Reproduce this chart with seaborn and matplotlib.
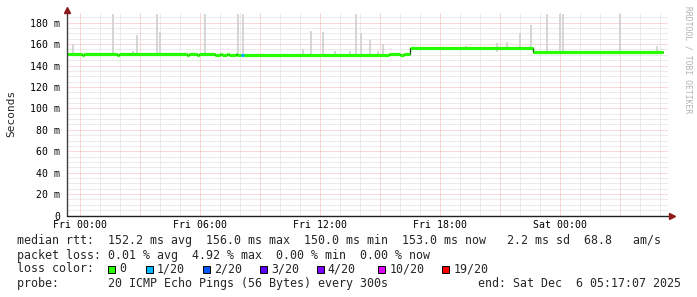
import matplotlib
matplotlib.use("Agg")
import matplotlib.pyplot as plt
import seaborn as sns
import pandas as pd
from matplotlib.patches import Rectangle

# ---------------- data (hours relative to Fri 00:00) ----------------
med_hours = [-0.675, 0.08, 0.2, 1.83, 1.95, 5.33, 5.43, 5.85, 5.95, 6.75, 7.0, 7.08,
             7.33, 7.47, 7.8, 7.85, 8.03, 8.18, 15.43, 16.0, 16.2, 16.52, 22.67]
med_ms = [151, 150, 151, 150, 151, 150, 151, 150, 151, 150, 151, 150,
          151, 150, 151, 150, 150, 150, 151, 150, 151, 156, 153]
med_loss = [0, 0, 0, 0, 0, 0, 0, 0, 0, 0, 0, 0,
            0, 0, 0, 0, 1, 0, 0, 0, 0, 0, 0]
end_hour = 29.17

spike_hours = [-0.35, 1.65, 2.65, 2.85, 3.85, 4.0, 6.25, 7.9, 8.15, 11.15, 11.55,
               12.15, 12.75, 13.5, 13.8, 14.05, 14.5, 14.9, 15.15, 19.3, 20.85,
               21.35, 22.0, 22.55, 23.35, 24.0, 24.15, 27.0, 28.85]
spike_lo = [150, 150, 150, 150, 150, 150, 150, 149, 149, 149, 149,
            149, 149, 149, 149, 149, 149, 149, 149, 155, 153,
            155, 155, 155, 152, 152, 152, 152, 152]
spike_hi = [160.5, 187.8, 154, 168.2, 187.8, 171, 187.8, 187.8, 187.8, 155, 172.6,
            171.7, 153.3, 153.5, 187.8, 170.8, 163.6, 153.5, 160.2, 158.6, 161,
            161.7, 170.5, 178.2, 187.8, 188.5, 187.8, 187.8, 158.6]

ytick_vals = [0, 20, 40, 60, 80, 100, 120, 140, 160, 180]
ytick_labels = ["0", "20 m", "40 m", "60 m", "80 m", "100 m", "120 m", "140 m", "160 m", "180 m"]
xtick_hours = [0, 6, 12, 18, 24]
xtick_labels = ["Fri 00:00", "Fri 06:00", "Fri 12:00", "Fri 18:00", "Sat 00:00"]

loss_labels = ["0", "1/20", "2/20", "3/20", "4/20", "10/20", "19/20"]
loss_colors = ["#26ff00", "#00b8ff", "#0059ff", "#5e00ff", "#7e00ff", "#dd00ff", "#ff0000"]

line_rtt = "median rtt:  152.2 ms avg  156.0 ms max  150.0 ms min  153.0 ms now   2.2 ms sd  68.8   am/s"
line_loss = "packet loss: 0.01 % avg  4.92 % max  0.00 % min  0.00 % now"
line_color = "loss color:"
line_probe = "probe:       20 ICMP Echo Pings (56 Bytes) every 300s"
line_end = "end: Sat Dec  6 05:17:07 2025"
watermark = "RRDTOOL / TOBI OETIKER"

# ---------------- figure ----------------
sns.set_style("white")
MONO = ["DejaVu Sans Mono"]
plt.rcParams["font.family"] = MONO

W, H = 697, 297
fig = plt.figure(figsize=(W / 100, H / 100), dpi=100, facecolor="white")

def fx(px):
    return px / W

def fy(py):
    return 1 - py / H

ax_l, ax_r, ax_t, ax_b = 66.5, 667.5, 13.0, 215.5
ax = fig.add_axes([fx(ax_l), fy(ax_b), (ax_r - ax_l) / W, (ax_b - ax_t) / H])
ax.set_facecolor("white")
ax.set_xlim(-0.675, 29.375)
ax.set_ylim(0, 189)

# grid
minor_c, major_c = "#d9d9d9", "#f0b4b4"
dot = (0, (1, 1))
for h in range(0, 30):
    if h % 3 != 0:
        ax.axvline(h, color=minor_c, lw=0.72, ls=dot, zorder=0)
for h in range(0, 30, 3):
    ax.axvline(h, color=major_c, lw=0.72, ls=dot, zorder=0.5)
for v in range(5, 190, 5):
    if v % 20 != 0:
        ax.axhline(v, color=minor_c, lw=0.72, ls=dot, zorder=0)
for v in range(20, 190, 20):
    ax.axhline(v, color=major_c, lw=0.72, ls=dot, zorder=0.5)

# smoke spikes
ax.vlines(spike_hours, spike_lo, spike_hi, color="#d2d2d2", lw=1.3, zorder=1)

# median line (thin dark step underneath, thick coloured segments on top)
step_df = pd.DataFrame({"h": med_hours + [end_hour], "ms": med_ms + [med_ms[-1]]})
sns.lineplot(data=step_df, x="h", y="ms", drawstyle="steps-post", color="#202020",
             lw=0.9, estimator=None, ax=ax, zorder=2)
seg_end = med_hours[1:] + [end_hour]
for h0, h1, v, l in zip(med_hours, seg_end, med_ms, med_loss):
    ax.hlines(v, h0, h1, color=loss_colors[l], lw=2.3, zorder=3, capstyle="butt")

# axes styling
for s in ax.spines.values():
    s.set_visible(False)
ax.set_yticks(ytick_vals)
ax.set_yticklabels(ytick_labels)
ax.set_xticks(xtick_hours)
ax.set_xticklabels(xtick_labels)
ax.tick_params(axis="both", length=0, labelsize=7.1, colors="#000000")
ax.tick_params(axis="y", pad=4.6)
ax.tick_params(axis="x", pad=3.3)
ax.set_xlabel("")
ax.set_ylabel("")

# axis lines with arrows
ax.plot([0, 0], [0, 1.015], transform=ax.transAxes, color="#404040", lw=1.0,
        clip_on=False, zorder=5)
ax.plot([0, 1.005], [0, 0], transform=ax.transAxes, color="#202020", lw=1.0,
        clip_on=False, zorder=5)
ax.plot([0], [1.015], transform=ax.transAxes, marker="^", ms=4.5, color="#8b1a1a",
        clip_on=False, zorder=6, mec="#8b1a1a")
ax.plot([1.008], [0], transform=ax.transAxes, marker=">", ms=4.5, color="#8b1a1a",
        clip_on=False, zorder=6, mec="#8b1a1a")

# y label and watermark
fig.text(fx(11), fy(113), "Seconds", rotation=90, ha="center", va="center",
         fontsize=8.0, family=MONO)
fig.text(fx(688), fy(60), watermark, rotation=270, ha="center", va="center",
         fontsize=5.8, color="#b0b0b0", family=MONO)

# legend lines
LF = 8.35
fig.text(fx(16.7), fy(240.7), line_rtt, ha="left", va="center", fontsize=LF, family=MONO)
fig.text(fx(16.7), fy(255), line_loss, ha="left", va="center", fontsize=LF, family=MONO)
fig.text(fx(16.7), fy(269), line_color, ha="left", va="center", fontsize=LF, family=MONO)
fig.text(fx(16.7), fy(283.3), line_probe, ha="left", va="center", fontsize=LF, family=MONO)
fig.text(fx(478), fy(283.3), line_end, ha="left", va="center", fontsize=LF, family=MONO)

sq_x = [108.3, 145.7, 203.3, 260.0, 316.7, 378.3, 442.3]
for x, lab, c in zip(sq_x, loss_labels, loss_colors):
    fig.add_artist(Rectangle((fx(x), fy(272.5)), 7 / W, 7 / H, transform=fig.transFigure,
                             facecolor=c, edgecolor="black", lw=0.7))
    fig.text(fx(x + 11), fy(269), lab, ha="left", va="center", fontsize=LF, family=MONO)

fig.savefig("out.png", dpi=100, facecolor="white")
